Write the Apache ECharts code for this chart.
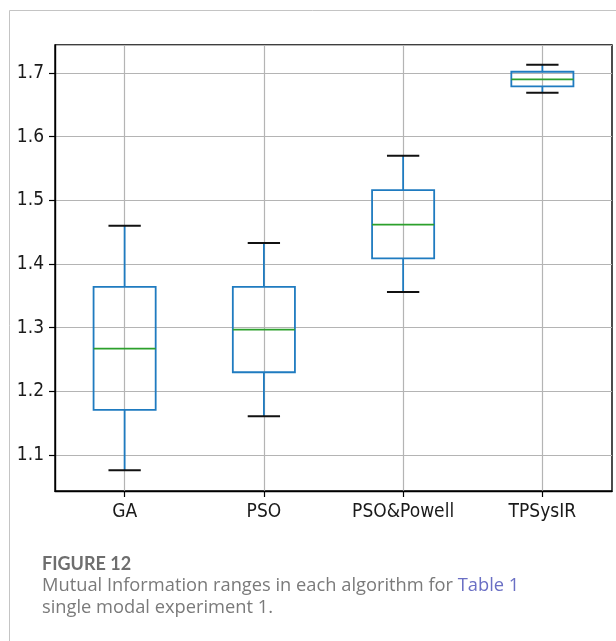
<!DOCTYPE html>
<html>
<head>
<meta charset="utf-8">
<script src="https://cdn.jsdelivr.net/npm/echarts@6/dist/echarts.min.js"></script>
<style>
html,body{margin:0;padding:0;background:#fff;}
#chart{width:616px;height:641px;}
</style>
</head>
<body>
<div id="chart"></div>
<script>
const categories = ['GA', 'PSO', 'PSO&Powell', 'TPSysIR'];
const whiskerLow = [1.076, 1.161, 1.356, 1.669];
const q1Values = [1.171, 1.230, 1.409, 1.679];
const medians = [1.267, 1.297, 1.462, 1.690];
const q3Values = [1.364, 1.364, 1.516, 1.702];
const whiskerHigh = [1.460, 1.433, 1.570, 1.713];
const yTicks = [1.1, 1.2, 1.3, 1.4, 1.5, 1.6, 1.7];
const captionTitle = 'FIGURE 12';
const captionLine1 = 'Mutual Information ranges in each algorithm for ';
const captionLink = 'Table 1';
const captionLine2 = 'single modal experiment 1.';

const boxData = categories.map((c, i) => [i, whiskerLow[i], q1Values[i], medians[i], q3Values[i], whiskerHigh[i]]);

const BLUE = '#1f7bc0', GREEN = '#2ca02c', FONT = 'DejaVu Sans Condensed';

const chart = echarts.init(document.getElementById('chart'), null, {renderer: 'canvas'});
chart.setOption({
  animation: false,
  backgroundColor: '#fff',
  grid: {left: 55, right: 4, top: 45, bottom: 150, show: true, borderColor: '#000', borderWidth: 1.4, backgroundColor: 'transparent'},
  xAxis: {
    type: 'category', data: categories, boundaryGap: true,
    axisLine: {show: true, lineStyle: {color: '#000', width: 1.4}},
    axisTick: {show: true, alignWithLabel: true, length: 6, lineStyle: {color: '#000', width: 1.2}},
    axisLabel: {color: '#1a1a1a', fontFamily: FONT, fontSize: 19, margin: 12},
    splitLine: {show: true, alignWithLabel: true, lineStyle: {color: '#b4b4b4', width: 1.2}}
  },
  yAxis: {
    type: 'value', min: 1.0435, max: 1.744, splitNumber: 7,
    axisLine: {show: true, lineStyle: {color: '#000', width: 1.4}},
    axisTick: {show: true, length: 6, lineStyle: {color: '#000', width: 1.2}},
    axisLabel: {color: '#1a1a1a', fontFamily: FONT, fontSize: 19, margin: 11, showMinLabel: false, showMaxLabel: false,
      formatter: v => { const t = yTicks.find(k => Math.abs(k - v) < 1e-6); return t === undefined ? '' : t.toFixed(1); }},
    splitLine: {show: true, lineStyle: {color: '#b4b4b4', width: 1.2}}
  },
  series: [{
    type: 'custom',
    data: boxData,
    encode: {x: 0, y: [1, 2, 3, 4, 5]},
    z: 5,
    renderItem: function (params, api) {
      const x = api.value(0);
      const band = api.size([1, 0])[0];
      const bw = band * 0.446, cw = band * 0.232;
      const pLo = api.coord([x, api.value(1)]);
      const pQ1 = api.coord([x, api.value(2)]);
      const pMed = api.coord([x, api.value(3)]);
      const pQ3 = api.coord([x, api.value(4)]);
      const pHi = api.coord([x, api.value(5)]);
      const cx = pMed[0];
      return {
        type: 'group',
        children: [
          {type: 'line', shape: {x1: cx, y1: pQ1[1], x2: cx, y2: pLo[1]}, style: {stroke: BLUE, lineWidth: 1.8}},
          {type: 'line', shape: {x1: cx, y1: pQ3[1], x2: cx, y2: pHi[1]}, style: {stroke: BLUE, lineWidth: 1.8}},
          {type: 'rect', shape: {x: cx - bw / 2, y: pQ3[1], width: bw, height: pQ1[1] - pQ3[1]}, style: {stroke: BLUE, fill: null, lineWidth: 1.8}},
          {type: 'line', shape: {x1: cx - bw / 2, y1: pMed[1], x2: cx + bw / 2, y2: pMed[1]}, style: {stroke: GREEN, lineWidth: 1.7}},
          {type: 'line', shape: {x1: cx - cw / 2, y1: pLo[1], x2: cx + cw / 2, y2: pLo[1]}, style: {stroke: '#111', lineWidth: 1.9}},
          {type: 'line', shape: {x1: cx - cw / 2, y1: pHi[1], x2: cx + cw / 2, y2: pHi[1]}, style: {stroke: '#111', lineWidth: 1.9}}
        ]
      };
    }
  }],
  graphic: [
    {type: 'line', shape: {x1: 9.5, y1: 10.5, x2: 616, y2: 10.5}, style: {stroke: '#c4c4c4', lineWidth: 1}},
    {type: 'line', shape: {x1: 9.5, y1: 10.5, x2: 9.5, y2: 641}, style: {stroke: '#c4c4c4', lineWidth: 1}},
    {type: 'text', x: 42, y: 564, style: {text: captionTitle, fill: '#6e6e6e', font: 'bold 18px Lato', verticalAlign: 'middle'}},
    {type: 'text', x: 42, y: 586, style: {
      text: '{a|' + captionLine1 + '}{b|' + captionLink + '}', verticalAlign: 'middle',
      rich: {a: {fill: '#7a7a7a', font: '18.3px "Open Sans"'}, b: {fill: '#6a6fc4', font: '18.3px "Open Sans"'}}
    }},
    {type: 'text', x: 42, y: 608, style: {text: captionLine2, fill: '#7a7a7a', font: '18.3px "Open Sans"', verticalAlign: 'middle'}}
  ]
});
</script>
</body>
</html>
